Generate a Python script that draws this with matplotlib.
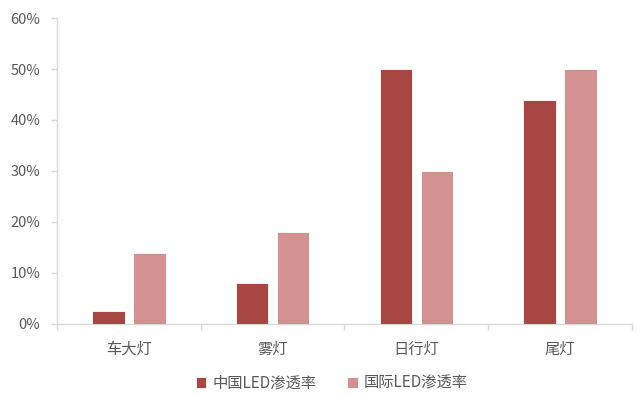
import numpy as np
import matplotlib.pyplot as plt
from matplotlib.ticker import FuncFormatter

plt.rcParams['font.family'] = ['Noto Sans CJK SC', 'DejaVu Sans']

categories = ['车大灯', '雾灯', '日行灯', '尾灯']
china_rate = [2.5, 8, 50, 44]
intl_rate = [14, 18, 30, 50]
series_names = ['中国LED渗透率', '国际LED渗透率']

dark_red = '#A84644'
pink = '#D39291'
grey = '#595959'
spine_col = '#D9D9D9'

fig = plt.figure(figsize=(6.38, 3.94), dpi=100)
ax = fig.add_axes([0.0893, 0.1777, 0.9013, 0.7766])

x = np.arange(len(categories))
w = 0.225
gap = 0.06
ax.bar(x - (w + gap) / 2, china_rate, w, color=dark_red, edgecolor='white',
       linewidth=0.6, label=series_names[0], zorder=3)
ax.bar(x + (w + gap) / 2, intl_rate, w, color=pink, edgecolor='white',
       linewidth=0.6, label=series_names[1], zorder=3)

ax.set_xlim(-0.5, len(categories) - 0.5)
ax.set_ylim(0, 60)
ax.set_yticks(np.arange(0, 61, 10))
ax.yaxis.set_major_formatter(FuncFormatter(lambda v, p: f'{v:.0f}%'))

# category labels in the middle, tick marks on the boundaries
ax.set_xticks(x)
ax.set_xticklabels(categories)
ax.set_xticks(np.arange(-0.5, len(categories), 1), minor=True)
ax.tick_params(axis='x', which='major', length=0, pad=12, labelsize=11, labelcolor=grey)
ax.tick_params(axis='x', which='minor', length=4, color=spine_col, width=1)
ax.tick_params(axis='y', length=4, color=spine_col, width=1, labelsize=10.5, labelcolor=grey, pad=8)

for s in ['top', 'right']:
    ax.spines[s].set_visible(False)
for s in ['left', 'bottom']:
    ax.spines[s].set_color(spine_col)
    ax.spines[s].set_linewidth(1)

leg = fig.legend(loc='lower center', bbox_to_anchor=(0.52, -0.03), ncol=2,
                 frameon=False, fontsize=11, handlelength=0.7, handleheight=0.7,
                 handletextpad=0.4, columnspacing=2.0)
for t in leg.get_texts():
    t.set_color(grey)

fig.savefig('out.png', dpi=100)
